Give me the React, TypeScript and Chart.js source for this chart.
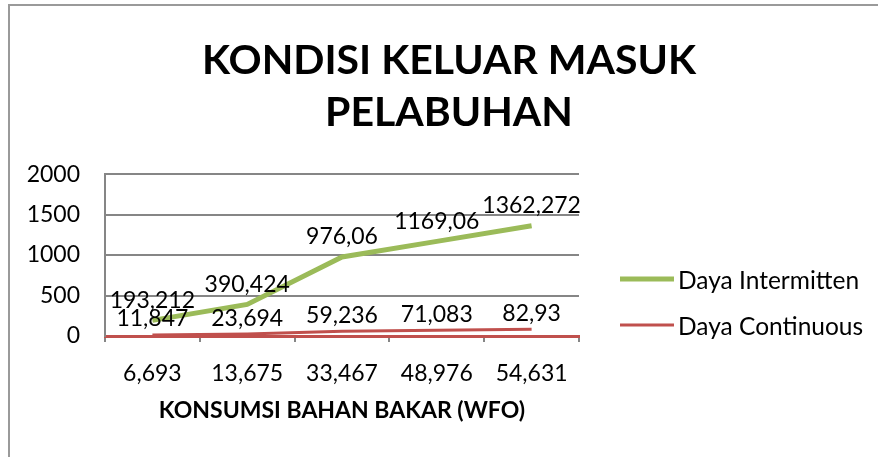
import React, { useEffect, useRef } from "react";
import { Chart, registerables } from "chart.js";

Chart.register(...registerables);

const titleLines = ["KONDISI KELUAR MASUK", "PELABUHAN"];
const xAxisTitle = "KONSUMSI BAHAN BAKAR (WFO)";
const categories = ["6,693", "13,675", "33,467", "48,976", "54,631"];
const dayaIntermitten = [193.212, 390.424, 976.06, 1169.06, 1362.272];
const dayaContinuous = [11.847, 23.694, 59.236, 71.083, 82.93];
const seriesNames = ["Daya Intermitten", "Daya Continuous"];
const yMin = 0;
const yMax = 2000;
const yStep = 500;

const GREEN = "#9bbb59";
const RED = "#c0504d";
const GRID = "#868686";
const FONT = "Lato";

const fmt = (v: number) => String(v).replace(".", ",");

const dataLabelPlugin = {
  id: "dataLabels",
  afterDatasetsDraw(chart: any) {
    const ctx = chart.ctx;
    const offsets = [20, 16];
    ctx.save();
    ctx.font = `23px ${FONT}`;
    ctx.fillStyle = "#000";
    ctx.textAlign = "center";
    ctx.textBaseline = "middle";
    chart.data.datasets.forEach((ds: any, di: number) => {
      const meta = chart.getDatasetMeta(di);
      meta.data.forEach((pt: any, i: number) => {
        ctx.fillText(fmt(ds.data[i]), pt.x, pt.y - offsets[di]);
      });
    });
    ctx.restore();
  },
};

const legendPlugin = {
  id: "customLegend",
  afterDraw(chart: any) {
    const ctx = chart.ctx;
    const area = chart.chartArea;
    ctx.save();
    ctx.font = `24.5px ${FONT}`;
    ctx.fillStyle = "#000";
    ctx.textAlign = "left";
    ctx.textBaseline = "middle";
    chart.data.datasets.forEach((ds: any, i: number) => {
      const y = area.bottom - 57 + i * 46;
      const x0 = area.right + 41;
      ctx.strokeStyle = ds.borderColor;
      ctx.lineWidth = ds.borderWidth;
      ctx.beginPath();
      ctx.moveTo(x0, y);
      ctx.lineTo(x0 + 54, y);
      ctx.stroke();
      ctx.fillText(ds.label, x0 + 58, y + 2);
    });
    ctx.restore();
  },
};

export default function App() {
  const ref = useRef<HTMLCanvasElement | null>(null);

  useEffect(() => {
    if (!ref.current) return;
    Chart.defaults.font.family = FONT;
    const chart = new Chart(ref.current, {
      type: "line",
      data: {
        labels: categories,
        datasets: [
          {
            label: seriesNames[0],
            data: dayaIntermitten,
            borderColor: GREEN,
            backgroundColor: GREEN,
            borderWidth: 5,
            pointRadius: 0,
            tension: 0,
          },
          {
            label: seriesNames[1],
            data: dayaContinuous,
            borderColor: RED,
            backgroundColor: RED,
            borderWidth: 3,
            pointRadius: 0,
            tension: 0,
          },
        ],
      },
      options: {
        animation: false,
        responsive: false,
        maintainAspectRatio: false,
        layout: { padding: { left: 20, top: 0, right: 0, bottom: 0 } },
        plugins: {
          legend: { display: false },
          tooltip: { enabled: false },
          title: {
            display: true,
            text: titleLines,
            color: "#000",
            font: { family: FONT, size: 41, weight: "bold", lineHeight: 1.27 },
            padding: { top: 35, bottom: 35 },
          },
        },
        scales: {
          x: {
            offset: true,
            grid: {
              drawOnChartArea: false,
              drawTicks: true,
              tickLength: 6,
              offset: true,
              color: GRID,
              lineWidth: 2,
            },
            border: { display: true, color: RED, width: 3 },
            ticks: { color: "#000", font: { family: FONT, size: 23 }, padding: 18 },
            title: {
              display: true,
              text: xAxisTitle,
              color: "#000",
              font: { family: FONT, size: 23, weight: "bold", lineHeight: 1.2 },
              padding: { top: 0, bottom: 33 },
            },
            afterFit: (s: any) => {
              s.height = 121;
            },
          },
          y: {
            min: yMin,
            max: yMax,
            ticks: {
              stepSize: yStep,
              color: "#000",
              font: { family: FONT, size: 23 },
              padding: 25,
              callback: (v: any) => String(v),
            },
            grid: { color: GRID, lineWidth: 2, drawTicks: false },
            border: { display: true, color: GRID, width: 2 },
            afterFit: (s: any) => {
              s.width = 85;
            },
          },
          yRight: {
            position: "right",
            display: true,
            grid: { display: false, drawTicks: false },
            border: { display: false },
            ticks: { display: false },
            afterFit: (s: any) => {
              s.width = 299;
            },
          },
        },
      },
      plugins: [dataLabelPlugin, legendPlugin],
    } as any);
    return () => chart.destroy();
  }, []);

  return (
    <div
      style={{
        position: "fixed",
        left: 0,
        top: 0,
        width: 878,
        height: 457,
        background: "#fff",
        overflow: "hidden",
      }}
    >
      <div
        style={{
          position: "absolute",
          left: 8,
          top: 4,
          width: 900,
          height: 480,
          borderLeft: "2px solid #9a9a9a",
          borderTop: "2px solid #9a9a9a",
        }}
      />
      <canvas
        ref={ref}
        width={878}
        height={457}
        style={{ position: "absolute", left: 0, top: 0, width: 878, height: 457 }}
      />
    </div>
  );
}
